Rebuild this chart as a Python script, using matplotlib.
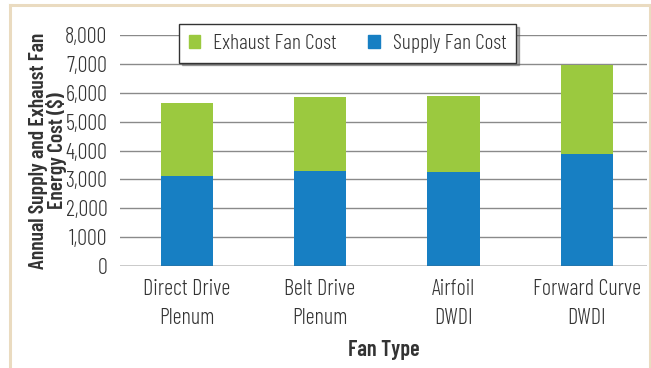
#!/usr/bin/env python3

# Annual supply and exhaust fan energy cost by fan type (stacked bars).

import matplotlib.pyplot as plt
from matplotlib.lines import Line2D
from matplotlib.patches import Rectangle

plt.rcParams['font.family'] = ['Barlow Condensed', 'DejaVu Sans']
plt.rcParams['font.weight'] = 300

fan_types = ['Direct Drive\nPlenum', 'Belt Drive\nPlenum', 'Airfoil\nDWDI',
             'Forward Curve\nDWDI']
supply_cost = [3130, 3280, 3260, 3870]
exhaust_cost = [2500, 2580, 2630, 3090]
y_ticks = [0, 1000, 2000, 3000, 4000, 5000, 6000, 7000, 8000]

GREEN = '#9bc93f'
BLUE = '#177fc3'
TEXT = '#333333'
GRID = '#8a8a8a'

fig = plt.figure(figsize=(6.51, 3.68), dpi=100)
ax = fig.add_axes([0.184, 0.276, 0.810, 0.630])

x = range(len(fan_types))
ax.bar(x, supply_cost, width=0.39, color=BLUE, zorder=2,
       label='Supply Fan Cost')
ax.bar(x, exhaust_cost, width=0.39, bottom=supply_cost, color=GREEN,
       zorder=2, label='Exhaust Fan Cost')

ax.set_ylim(0, 8000)
ax.set_xlim(-0.5, 3.45)
ax.set_yticks(y_ticks)
ax.set_yticklabels(['{:,}'.format(v) for v in y_ticks])
ax.set_xticks(list(x))
ax.set_xticklabels(fan_types, linespacing=1.5)
ax.yaxis.grid(True, color=GRID, linewidth=1.0, zorder=0)
ax.set_axisbelow(True)
ax.axhline(0, color='#555555', linewidth=1.0, zorder=3)
for s in ax.spines.values():
    s.set_visible(False)
ax.tick_params(axis='both', length=0, labelsize=16, colors=TEXT)
ax.tick_params(axis='y', pad=9)
ax.tick_params(axis='x', pad=9)

ax.set_ylabel('Annual Supply and Exhaust Fan\nEnergy Cost ($)', fontsize=15.5,
              fontweight=600, color=TEXT, linespacing=0.9)
ax.yaxis.set_label_coords(-0.10, 0.5)
ax.set_xlabel('Fan Type', fontsize=16, fontweight=600, color=TEXT,
              labelpad=8)

# legend with drop shadow
handles = [Rectangle((0, 0), 1, 1, color=GREEN),
           Rectangle((0, 0), 1, 1, color=BLUE)]
leg = ax.legend(handles, ['Exhaust Fan Cost', 'Supply Fan Cost'], ncol=2,
                loc='upper left', bbox_to_anchor=(0.112, 1.045),
                borderaxespad=0, fontsize=15.5, frameon=True, fancybox=False,
                shadow={'color': '#555555', 'alpha': 0.45},
                handlelength=0.55, handleheight=0.55, handletextpad=0.6,
                columnspacing=1.45, borderpad=0.45, labelcolor=TEXT)
leg.get_frame().set_edgecolor('#333333')
leg.get_frame().set_linewidth(1.0)
leg.set_zorder(5)

# beige frame around the figure
frame_color = '#eadbc0'
fig.add_artist(Line2D([0.016, 0.016], [0.0, 0.986], color=frame_color,
                      linewidth=2.2, transform=fig.transFigure))
fig.add_artist(Line2D([0.998, 0.998], [0.0, 0.986], color=frame_color,
                      linewidth=2.2, transform=fig.transFigure))
fig.add_artist(Line2D([0.016, 0.998], [0.986, 0.986], color=frame_color,
                      linewidth=2.2, transform=fig.transFigure))

fig.savefig('out.png', dpi=100)
